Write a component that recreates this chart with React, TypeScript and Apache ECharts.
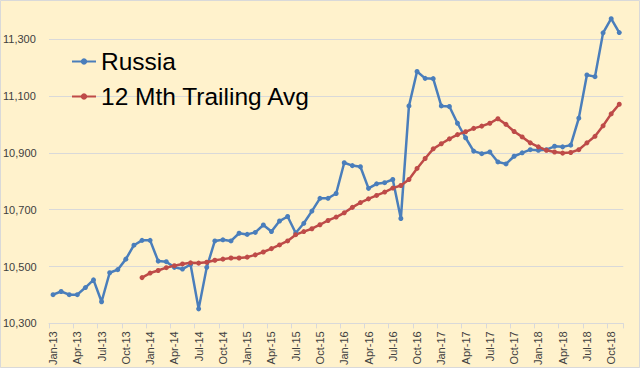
import React, { useEffect, useRef } from "react";
import * as echarts from "echarts";

const monthNames = ["Jan", "Feb", "Mar", "Apr", "May", "Jun", "Jul", "Aug", "Sep", "Oct", "Nov", "Dec"];
const years = ["13", "14", "15", "16", "17", "18"];
const monthCount = 71; // Jan-13 .. Nov-18

const russia = [
  10401, 10412, 10401, 10401, 10426, 10453, 10376, 10478, 10489, 10526, 10575, 10592,
  10592, 10519, 10517, 10497, 10491, 10507, 10351, 10497, 10590, 10594, 10590, 10617,
  10613, 10620, 10646, 10623, 10660, 10676, 10618, 10652, 10695, 10740, 10740, 10757,
  10865, 10855, 10851, 10775, 10791, 10795, 10806, 10669, 11065, 11186, 11162, 11161,
  11065, 11063, 11004, 10953, 10906, 10897, 10903, 10868, 10861, 10888, 10900, 10911,
  10909, 10911, 10923, 10921, 10927, 11022, 11174, 11168, 11322, 11372, 11323,
];

const trailingAvg = [
  null, null, null, null, null, null, null, null, null, null, null, 10461,
  10477, 10486, 10496, 10503, 10509, 10513, 10512, 10515, 10522, 10526, 10530, 10530,
  10533, 10541, 10551, 10563, 10576, 10590, 10612, 10623, 10633, 10647, 10662, 10674,
  10689, 10708, 10725, 10738, 10750, 10762, 10776, 10785, 10806, 10845, 10880, 10914,
  10932, 10949, 10964, 10974, 10986, 10994, 11004, 11020, 11000, 10975, 10956, 10935,
  10921, 10909, 10903, 10899, 10901, 10911, 10935, 10958, 10995, 11037, 11071,
];

const yMin = 10300;
const yMax = 11400;
const yStep = 200;

const categories: string[] = [];
for (let y = 0; y < years.length; y++) {
  for (let m = 0; m < 12; m++) {
    if (categories.length < monthCount) categories.push(monthNames[m] + "-" + years[y]);
  }
}

const fmt = (v: number) => v.toLocaleString("en-US");

export default function App() {
  const ref = useRef<HTMLDivElement>(null);
  useEffect(() => {
    document.body.style.margin = "0";
    const chart = echarts.init(ref.current!, null, { renderer: "svg" });
    chart.setOption({
      animation: false,
      backgroundColor: "#FFF2CC",
      textStyle: { fontFamily: "Liberation Sans" },
      graphic: [
        {
          type: "rect",
          shape: { x: 0.5, y: 0.5, width: 639, height: 367 },
          style: { fill: "none", stroke: "#D9D9D9", lineWidth: 1 },
          silent: true,
        },
      ],
      grid: { left: 48.3, right: 16.7, top: 10.7, bottom: 43.3 },
      legend: {
        orient: "vertical",
        left: 66,
        top: 44,
        itemWidth: 24,
        itemHeight: 8,
        itemGap: 10,
        textStyle: { fontSize: 24.5, color: "#000000", fontFamily: "Liberation Sans", lineHeight: 24 },
        data: ["Russia", "12 Mth Trailing Avg"],
      },
      xAxis: {
        type: "category",
        data: categories,
        boundaryGap: true,
        axisLine: { lineStyle: { color: "#D9D9D9", width: 1 } },
        axisTick: { show: true, interval: 2, length: 5, lineStyle: { color: "#D9D9D9" } },
        axisLabel: {
          interval: 2,
          rotate: 90,
          margin: 8,
          fontSize: 11,
          color: "#404040",
          fontFamily: "Liberation Sans",
        },
        splitLine: { show: false },
      },
      yAxis: {
        type: "value",
        min: yMin,
        max: yMax,
        interval: yStep,
        axisLine: { show: false },
        axisTick: { show: false },
        splitLine: { show: true, showMaxLine: false, lineStyle: { color: "#D9D9D9", width: 1 } },
        axisLabel: {
          showMaxLabel: false,
          align: "left",
          margin: 46,
          fontSize: 11,
          color: "#404040",
          fontFamily: "Liberation Sans",
          formatter: (v: number) => (v === yMax ? "" : fmt(v)),
        },
      },
      series: [
        {
          name: "Russia",
          type: "line",
          data: russia,
          symbol: "circle",
          symbolSize: 5,
          lineStyle: { color: "#4A7EBB", width: 2.5 },
          itemStyle: { color: "#4A7EBB" },
        },
        {
          name: "12 Mth Trailing Avg",
          type: "line",
          data: trailingAvg,
          symbol: "circle",
          symbolSize: 5,
          lineStyle: { color: "#BE4B48", width: 2.5 },
          itemStyle: { color: "#BE4B48" },
        },
      ],
    });
    return () => chart.dispose();
  }, []);
  return <div ref={ref} style={{ width: 640, height: 368 }} />;
}
